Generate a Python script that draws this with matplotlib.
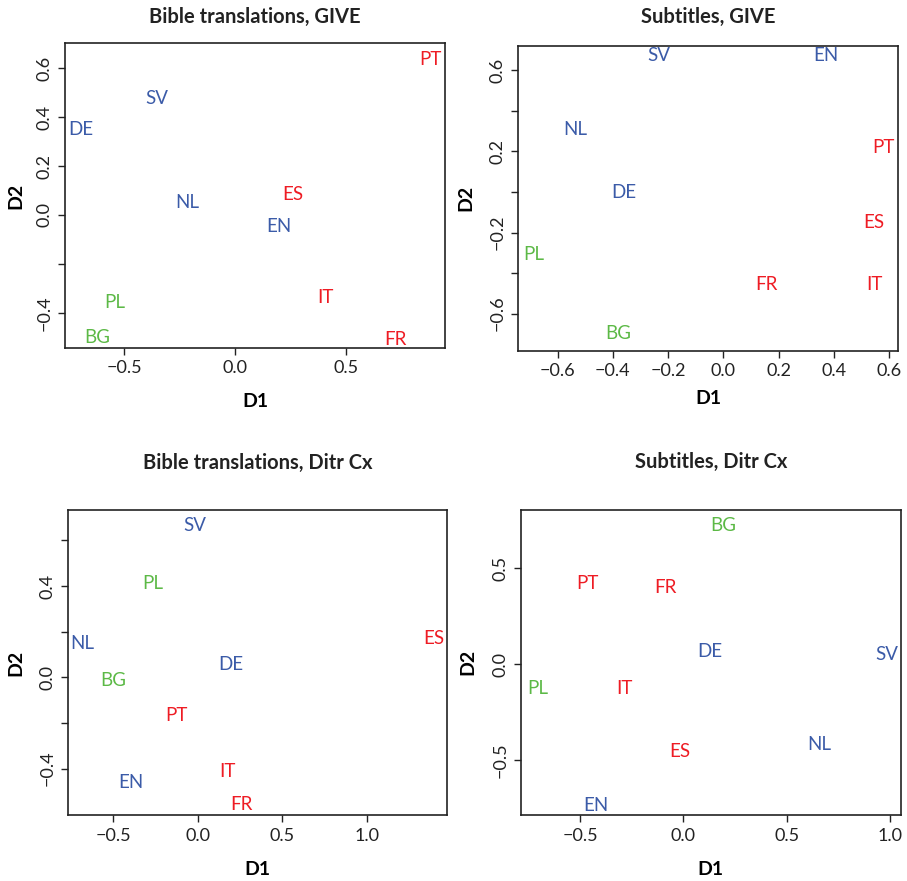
import matplotlib
matplotlib.use("Agg")
import matplotlib.pyplot as plt

plt.rcParams['font.family'] = ['Lato', 'DejaVu Sans']

# language codes and their group (Germanic+EN / Romance / Slavic)
langs = ["PT", "SV", "DE", "NL", "ES", "EN", "IT", "PL", "BG", "FR"]
group = {"PT": "rom", "ES": "rom", "IT": "rom", "FR": "rom",
         "SV": "ger", "DE": "ger", "NL": "ger", "EN": "ger",
         "PL": "sla", "BG": "sla"}
group_colors = {"ger": "#3b5ba8", "rom": "#ee1c24", "sla": "#5cb946"}

# MDS coordinates, in the order of `langs`
bible_give_d1 = [0.877, -0.354, -0.695, -0.216, 0.261, 0.194, 0.404, -0.541, -0.622, 0.719]
bible_give_d2 = [0.637, 0.477, 0.350, 0.052, 0.082, -0.048, -0.338, -0.359, -0.500, -0.511]

subs_give_d1 = [0.579, -0.233, -0.360, -0.535, 0.543, 0.372, 0.546, -0.687, -0.382, 0.157]
subs_give_d2 = [0.218, 0.675, -0.002, 0.306, -0.151, 0.671, -0.458, -0.307, -0.696, -0.458]

bible_ditr_d1 = [-0.124, -0.016, 0.195, -0.680, 1.397, -0.394, 0.175, -0.268, -0.499, 0.256]
bible_ditr_d2 = [-0.165, 0.663, 0.058, 0.149, 0.171, -0.462, -0.413, 0.409, -0.015, -0.559]

subs_ditr_d1 = [-0.466, 0.985, 0.126, 0.659, -0.016, -0.425, -0.286, -0.706, 0.193, -0.089]
subs_ditr_d2 = [0.419, 0.049, 0.069, -0.416, -0.456, -0.734, -0.127, -0.127, 0.721, 0.398]

panels = [
    dict(title="Bible translations, GIVE", d1=bible_give_d1, d2=bible_give_d2,
         rect=[0.0717, 0.6050, 0.4189, 0.3462], xlim=(-0.767, 0.944), ylim=(-0.544, 0.703),
         xticks=[-0.5, 0.0, 0.5], xlabels=["\u22120.5", "0.0", "0.5"],
         yticks=[-0.4, -0.2, 0.0, 0.2, 0.4, 0.6], ylabels=["\u22120.4", "", "0.0", "0.2", "0.4", "0.6"],
         title_y=1.085, xlab_y=-0.177, ylab_x=-0.129),
    dict(title="Subtitles, GIVE", d1=subs_give_d1, d2=subs_give_d2,
         rect=[0.5715, 0.6016, 0.4183, 0.3465], xlim=(-0.742, 0.631), ylim=(-0.784, 0.721),
         xticks=[-0.6, -0.4, -0.2, 0.0, 0.2, 0.4, 0.6],
         xlabels=["\u22120.6", "\u22120.4", "\u22120.2", "0.0", "0.2", "0.4", "0.6"],
         yticks=[-0.6, -0.4, -0.2, 0.0, 0.2, 0.4, 0.6],
         ylabels=["\u22120.6", "", "\u22120.2", "", "0.2", "", "0.6"],
         title_y=1.094, xlab_y=-0.155, ylab_x=-0.138),
    dict(title="Bible translations, Ditr Cx", d1=bible_ditr_d1, d2=bible_ditr_d2,
         rect=[0.0746, 0.0749, 0.4182, 0.3462], xlim=(-0.768, 1.473), ylim=(-0.603, 0.733),
         xticks=[-0.5, 0.0, 0.5, 1.0], xlabels=["\u22120.5", "0.0", "0.5", "1.0"],
         yticks=[-0.4, -0.2, 0.0, 0.2, 0.4, 0.6], ylabels=["\u22120.4", "", "0.0", "", "0.4", ""],
         title_y=1.155, xlab_y=-0.180, ylab_x=-0.136),
    dict(title="Subtitles, Ditr Cx", d1=subs_ditr_d1, d2=subs_ditr_d2,
         rect=[0.5741, 0.0749, 0.4190, 0.3466], xlim=(-0.789, 1.053), ylim=(-0.786, 0.806),
         xticks=[-0.5, 0.0, 0.5, 1.0], xlabels=["\u22120.5", "0.0", "0.5", "1.0"],
         yticks=[-0.5, 0.0, 0.5], ylabels=["\u22120.5", "0.0", "0.5"],
         title_y=1.155, xlab_y=-0.180, ylab_x=-0.138),
]

fig = plt.figure(figsize=(9.07, 8.81), dpi=100)

for p in panels:
    ax = fig.add_axes(p["rect"])
    for lang, x, y in zip(langs, p["d1"], p["d2"]):
        ax.text(x, y, lang, ha="center", va="center", fontsize=13.5,
                color=group_colors[group[lang]])
    ax.set_xlim(*p["xlim"])
    ax.set_ylim(*p["ylim"])
    ax.set_xticks(p["xticks"])
    ax.set_xticklabels(p["xlabels"])
    ax.set_yticks(p["yticks"])
    ax.set_yticklabels(p["ylabels"], rotation=90, va="center")
    ax.tick_params(length=5, width=1, labelsize=13, colors="#222222", pad=4)
    for s in ax.spines.values():
        s.set_linewidth(1.2)
        s.set_color("#222222")
    ax.set_xlabel("D1", fontsize=14, fontweight="bold", va="center")
    ax.set_ylabel("D2", fontsize=14, fontweight="bold", va="center")
    ax.xaxis.set_label_coords(0.5, p["xlab_y"])
    ax.yaxis.set_label_coords(p["ylab_x"], 0.5)
    ax.text(0.5, p["title_y"], p["title"], transform=ax.transAxes, ha="center",
            va="center", fontsize=14.5, fontweight="bold", color="#222222")

fig.savefig("out.png", dpi=100)
